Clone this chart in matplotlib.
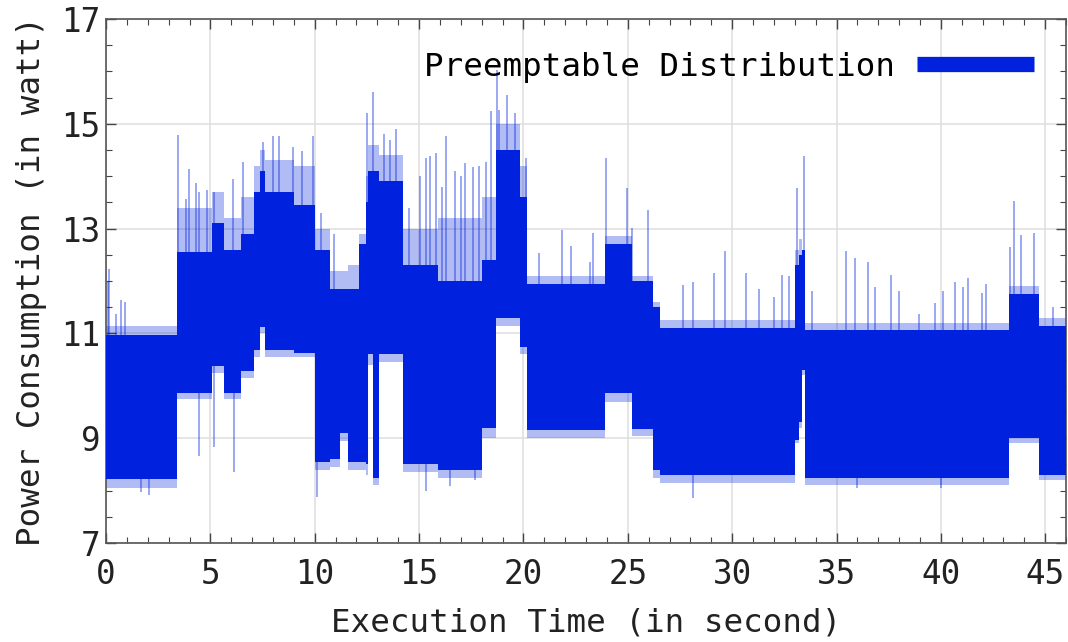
import numpy as np
import matplotlib
matplotlib.use("Agg")
import matplotlib.pyplot as plt
from matplotlib.lines import Line2D
from matplotlib.ticker import MultipleLocator, FixedLocator

# ---- data (power trace envelope, watts) ----
seg_start = [0.00, 3.38, 5.10, 5.65, 6.45, 7.10, 7.40, 7.60, 9.00, 10.02,
             10.75, 11.20, 11.60, 12.10, 12.45, 12.55, 12.80, 13.10, 14.25, 15.90,
             18.00, 18.70, 19.85, 20.15, 23.89, 25.19, 26.23, 26.55, 33.03, 33.20,
             33.35, 33.48, 43.25, 44.70]
seg_low = [8.22, 9.86, 10.38, 9.86, 10.28, 10.68, 11.12, 10.68, 10.62, 8.55,
           8.60, 9.10, 8.55, 8.55, 8.50, 10.60, 8.25, 10.60, 8.50, 8.40,
           9.20, 11.30, 10.75, 9.15, 9.86, 9.17, 8.40, 8.30, 8.97, 9.30,
           10.30, 8.25, 9.00, 8.30]
seg_high = [10.96, 12.55, 13.10, 12.60, 12.90, 13.70, 14.10, 13.70, 13.45, 12.60,
            11.85, 11.85, 11.85, 12.70, 13.50, 14.10, 14.10, 13.90, 12.30, 12.00,
            12.40, 14.50, 13.60, 11.95, 12.70, 12.00, 11.50, 11.10, 12.30, 12.50,
            12.60, 11.06, 11.75, 11.15]
seg_fringe_high = [11.15, 13.40, 13.70, 13.20, 13.60, 14.20, 14.50, 14.30, 14.20, 13.00,
                   12.20, 12.20, 12.30, 12.90, 14.00, 14.60, 14.60, 14.40, 13.00, 13.20,
                   13.60, 15.00, 14.20, 12.10, 12.85, 12.10, 11.60, 11.25, 12.60, 12.80,
                   12.60, 11.20, 11.90, 11.30]
seg_fringe_low = [8.05, 9.75, 10.25, 9.75, 10.15, 10.55, 11.00, 10.55, 10.55, 8.40,
                  8.45, 8.95, 8.40, 8.40, 8.30, 10.40, 8.10, 10.45, 8.35, 8.25,
                  9.00, 11.15, 10.60, 9.00, 9.70, 9.05, 8.25, 8.15, 8.90, 9.20,
                  10.20, 8.10, 8.90, 8.20]
t_end = 46.0

spike_t = [0.08, 0.16, 0.48, 0.72, 0.93, 3.46, 3.83, 3.99, 4.31, 4.47, 4.82, 5.19,
           6.06, 6.57, 7.50, 7.98, 8.30, 8.98, 9.38, 9.92, 10.30, 10.90, 12.50, 12.77,
           13.30, 13.60, 13.90, 14.50, 15.03, 15.35, 15.51, 15.80, 16.10, 16.31, 16.70,
           17.00, 17.20, 17.58, 17.87, 18.22, 18.46, 18.73, 18.81, 19.21, 19.58, 20.14,
           20.74, 21.86, 22.27, 23.20, 23.35, 23.96, 24.95, 25.19, 25.95, 27.63, 28.10,
           29.14, 29.68, 30.67, 31.27, 31.99, 32.38, 32.74, 33.10, 33.43, 33.81, 35.46,
           35.90, 36.50, 36.86, 37.61, 38.00, 38.96, 39.73, 40.08, 40.69, 41.07, 41.28,
           41.95, 42.16, 43.30, 43.51, 43.83, 44.47, 45.35]
spike_top = [11.99, 12.23, 11.37, 11.64, 11.60, 14.79, 13.56, 14.14, 13.87, 13.70, 13.73, 13.70,
             13.94, 14.28, 14.66, 14.76, 14.76, 14.55, 14.49, 14.76, 13.30, 12.90, 15.20, 15.60,
             14.80, 14.70, 14.90, 13.40, 14.00, 14.35, 14.38, 14.45, 13.80, 14.76, 14.10,
             14.00, 14.25, 14.18, 14.20, 14.28, 15.24, 16.03, 15.27, 15.55, 15.20, 14.35,
             12.53, 12.98, 12.67, 12.36, 12.91, 14.35, 13.77, 13.01, 13.36, 11.92, 11.99,
             12.16, 12.57, 12.16, 11.85, 11.70, 12.12, 12.09, 13.77, 14.38, 11.80, 12.57,
             12.43, 12.36, 11.88, 12.12, 11.80, 11.37, 11.58, 11.80, 11.99, 11.88, 12.05,
             11.78, 11.95, 12.64, 13.53, 12.88, 12.91, 11.50]

dip_t = [1.68, 2.05, 4.47, 5.19, 6.15, 10.10, 15.35, 16.50, 17.70, 28.10, 36.00, 40.00]
dip_bottom = [7.98, 7.91, 8.66, 8.84, 8.36, 7.88, 8.00, 8.08, 8.20, 7.86, 8.05, 8.05]

y_ticks = [7, 9, 11, 13, 15, 17]
series_label = "Preemptable Distribution"
x_label = "Execution Time (in second)"
y_label = "Power Consumption (in watt)"

# ---- drawing ----
BLUE = "#0021dd"
plt.rcParams['font.family'] = ['DejaVu Sans Mono']

fig = plt.figure(figsize=(10.68, 6.42), dpi=100)
ax = fig.add_axes([0.0993, 0.1542, 0.8989, 0.8162])

xs = np.append(seg_start, t_end)
def ext(v):
    return np.append(v, v[-1])

ax.fill_between(xs, ext(seg_fringe_low), ext(seg_fringe_high), step='post',
                color=BLUE, alpha=0.3, lw=0, zorder=2)
ax.fill_between(xs, ext(seg_low), ext(seg_high), step='post',
                color=BLUE, lw=0, zorder=3)

# spikes start from the band edge at their time
idx_s = np.searchsorted(seg_start, spike_t, side='right') - 1
idx_d = np.searchsorted(seg_start, dip_t, side='right') - 1
spike_base = np.asarray(seg_high)[idx_s]
dip_base = np.asarray(seg_low)[idx_d]
ax.vlines(spike_t, spike_base, spike_top, colors=BLUE, alpha=0.5, lw=1.1, zorder=2.5)
ax.vlines(dip_t, dip_bottom, dip_base, colors=BLUE, alpha=0.5, lw=1.1, zorder=2.5)

ax.set_xlim(0, 46)
ax.set_ylim(7, 17)
ax.xaxis.set_major_locator(MultipleLocator(5))
ax.xaxis.set_minor_locator(MultipleLocator(1))
ax.yaxis.set_major_locator(FixedLocator(y_ticks))
ax.yaxis.set_minor_locator(MultipleLocator(0.5))
ax.grid(True, which='major', color='#e0e0e0', lw=1.2, zorder=0)
ax.set_axisbelow(True)
ax.tick_params(which='both', direction='in', top=True, right=True,
               colors='#444444', labelcolor='#222222', labelsize=23.5)
ax.tick_params(which='major', length=7, width=1)
ax.tick_params(which='minor', length=4, width=0.8)
ax.tick_params(axis='x', which='major', pad=11)
ax.tick_params(axis='y', which='major', pad=4)
for s in ax.spines.values():
    s.set_color('#555555')
    s.set_linewidth(1.2)

ax.set_xlabel(x_label, fontsize=23.4, color='#222222', labelpad=12)
ax.set_ylabel(y_label, fontsize=23.4, color='#222222', labelpad=10)

handle = Line2D([0], [0], color=BLUE, lw=11, solid_capstyle='butt')
ax.legend([handle], [series_label], loc='upper right', frameon=False,
          markerfirst=False, fontsize=23.4, handlelength=3.6, handletextpad=0.65,
          borderaxespad=0.6)

fig.savefig("out.png", dpi=100)
